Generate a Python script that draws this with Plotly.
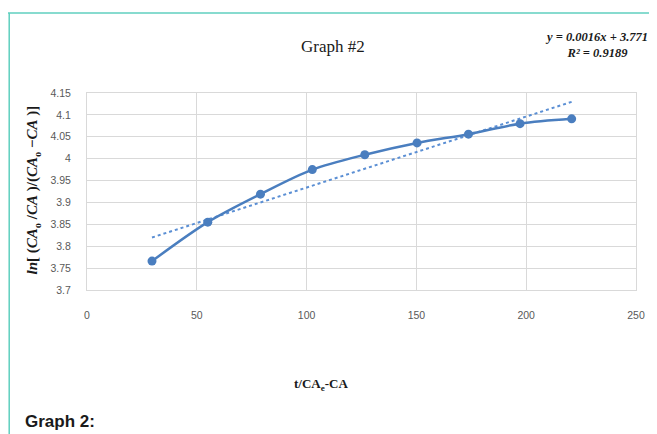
import numpy as np
import plotly.graph_objects as go

# Data
x_vals = [29.6, 55.0, 79.0, 102.6, 126.5, 150.3, 173.7, 197.2, 220.7]
y_vals = [3.766, 3.855, 3.919, 3.975, 4.009, 4.036, 4.056, 4.080, 4.091]

x_ticks = [0, 50, 100, 150, 200, 250]
y_ticks = [3.7, 3.75, 3.8, 3.85, 3.9, 3.95, 4.0, 4.05, 4.1, 4.15]
y_tick_text = ["3.7", "3.75", "3.8", "3.85", "3.9", "3.95", "4", "4.05", "4.1", "4.15"]

# Linear trendline (least squares) over the data range
slope, intercept = np.polyfit(x_vals, y_vals, 1)
trend_x = [min(x_vals), max(x_vals)]
trend_y = [slope * v + intercept for v in trend_x]

blue = "#4a7ebf"
serif = "Liberation Serif"

fig = go.Figure()
fig.add_trace(go.Scatter(
    x=trend_x, y=trend_y, mode="lines",
    line=dict(color="#5b8fd4", width=2, dash="dot"),
    hoverinfo="skip", showlegend=False))
fig.add_trace(go.Scatter(
    x=x_vals, y=y_vals, mode="lines+markers",
    line=dict(color=blue, width=2.5, shape="spline", smoothing=0.9),
    marker=dict(color=blue, size=9),
    showlegend=False))

# page body has an 8px margin: figure starts at (8, 8) in the window
OFF = 8
WIN_W, WIN_H = 657, 434
W, H = WIN_W - OFF, WIN_H - OFF
# plot area in window pixels
PL, PR, PT, PB = 87, 641, 93, 290
L, R, T, B = PL - OFF, WIN_W - PR, PT - OFF, WIN_H - PB
pw, ph = PR - PL, PB - PT

def px_x(p):
    return (p - PL) / pw

def px_y(p):
    return (PB - p) / ph

fig.update_layout(
    width=W, height=H,
    margin=dict(l=L, r=R, t=T, b=B, pad=0),
    paper_bgcolor="white", plot_bgcolor="white",
    font=dict(family="Liberation Sans", color="#595959", size=10),
    xaxis=dict(
        range=[0, 250], tickvals=x_ticks, ticktext=[str(v) for v in x_ticks],
        showgrid=True, gridcolor="#d9d9d9", gridwidth=1,
        zeroline=False, showline=True, linecolor="#d9d9d9", mirror=True,
        ticks="outside", ticklen=15, tickcolor="rgba(0,0,0,0)",
        tickfont=dict(size=10.5, color="#595959"),
    ),
    yaxis=dict(
        range=[3.7, 4.15], tickvals=y_ticks, ticktext=y_tick_text,
        showgrid=True, gridcolor="#d9d9d9", gridwidth=1,
        zeroline=False, showline=True, linecolor="#d9d9d9", mirror=True,
        ticks="outside", ticklen=13, tickcolor="rgba(0,0,0,0)",
        tickfont=dict(size=10.5, color="#595959"),
    ),
    shapes=[
        dict(type="line", xref="paper", yref="paper",
             x0=px_x(7), x1=px_x(WIN_W), y0=px_y(13), y1=px_y(13),
             line=dict(color="#5fcfbf", width=1.5)),
        dict(type="line", xref="paper", yref="paper",
             x0=px_x(8.5), x1=px_x(8.5), y0=px_y(13), y1=px_y(WIN_H),
             line=dict(color="#5fcfbf", width=1.5)),
    ],
    annotations=[
        dict(text="Graph #2", xref="paper", yref="paper",
             x=px_x(335), y=px_y(47), showarrow=False,
             xanchor="center", yanchor="middle",
             font=dict(family=serif, size=17, color="#1a1a1a")),
        dict(text="<b><i>y = 0.0016x + 3.771</i></b><br><b><i>R² = 0.9189</i></b>",
             xref="paper", yref="paper", x=px_x(601), y=px_y(45),
             showarrow=False, align="center",
             xanchor="center", yanchor="middle",
             font=dict(family=serif, size=12.5, color="#1a1a1a")),
        dict(text="<b>t/CA<sub>e</sub>-CA</b>", xref="paper", yref="paper",
             x=px_x(323), y=px_y(384), showarrow=False,
             xanchor="center", yanchor="middle",
             font=dict(family=serif, size=13, color="#1a1a1a")),
        dict(text="<b><i>ln</i>[ (<i>CA</i><sub>o</sub> /<i>CA</i> )/(<i>CA</i><sub>o</sub> −<i>CA</i> )]</b>",
             xref="paper", yref="paper", x=px_x(33), y=px_y(190),
             showarrow=False, textangle=-90,
             xanchor="center", yanchor="middle",
             font=dict(family=serif, size=15, color="#1a1a1a")),
        dict(text="<b>Graph 2:</b>", xref="paper", yref="paper",
             x=px_x(22), y=px_y(421), xanchor="left", yanchor="middle",
             showarrow=False,
             font=dict(family="Liberation Sans", size=17, color="#1a1a1a")),
    ],
)

fig.write_html("out.html")
